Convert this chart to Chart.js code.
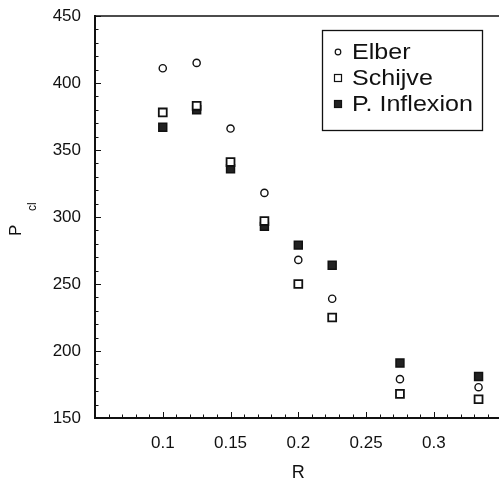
<!DOCTYPE html>
<html>
<head>
<meta charset="utf-8">
<script src="https://cdn.jsdelivr.net/npm/chart.js@4/dist/chart.umd.min.js"></script>
<style>
  html, body { margin: 0; padding: 0; background: #fff; overflow: hidden; }
  #wrap { position: relative; width: 499px; height: 484px; overflow: hidden; }
</style>
</head>
<body>
<div id="wrap"><canvas id="c" width="509" height="484"></canvas></div>
<script>
// ---- data ----
const R = [0.1, 0.125, 0.15, 0.175, 0.2, 0.225, 0.275, 0.333];
const elber = [411, 415, 366, 318, 268, 239, 179, 173];
const schijve = [378, 383, 341, 297, 250, 225, 168, 164];
const inflexion = [367, 380, 336, 293, 279, 264, 191, 181];
const seriesNames = ['Elber', 'Schijve', 'P. Inflexion'];
const xTickLabels = [0.1, 0.15, 0.2, 0.25, 0.3];
const yTickLabels = [150, 200, 250, 300, 350, 400, 450];

const FONT = '"Liberation Sans", Arial, Helvetica, sans-serif';
const INK = '#111';

function pts(ys) { return R.map((r, i) => ({ x: r, y: ys[i] })); }

// inward ticks, top border, y title with subscript, boxed legend
const decor = {
  id: 'decor',
  afterDraw(chart) {
    const ctx = chart.ctx, a = chart.chartArea;
    const xs = chart.scales.x, ys = chart.scales.y;
    ctx.save();
    ctx.strokeStyle = INK;
    // top border
    ctx.lineWidth = 1.3;
    ctx.beginPath(); ctx.moveTo(a.left, a.top); ctx.lineTo(a.right + 20, a.top); ctx.stroke();
    ctx.lineWidth = 1;
    // x ticks (inward)
    for (let k = 5; k <= 35; k++) {
      const v = k / 100, px = Math.round(xs.getPixelForValue(v)) + 0.5;
      const major = k % 5 === 0;
      ctx.beginPath(); ctx.moveTo(px, a.bottom); ctx.lineTo(px, a.bottom - (major ? 6 : 3.5)); ctx.stroke();
    }
    // y ticks (inward)
    for (let v = 150; v <= 450; v += 10) {
      const py = Math.round(ys.getPixelForValue(v)) + 0.5;
      const major = v % 50 === 0;
      ctx.beginPath(); ctx.moveTo(a.left, py); ctx.lineTo(a.left + (major ? 6 : 3.5), py); ctx.stroke();
    }
    // y title "P" with subscript "cl"
    ctx.fillStyle = INK;
    ctx.translate(21, 236);
    ctx.rotate(-Math.PI / 2);
    ctx.textBaseline = 'alphabetic';
    ctx.textAlign = 'left';
    ctx.font = '17px ' + FONT;
    ctx.fillText('P', 0, 0);
    ctx.font = '12px ' + FONT;
    ctx.fillText('cl', 25, 15);
    ctx.restore();

    // legend box
    ctx.save();
    ctx.strokeStyle = INK;
    ctx.lineWidth = 1.3;
    ctx.strokeRect(322.5, 30.5, 160, 100);
    ctx.font = '22px ' + FONT;
    ctx.fillStyle = INK;
    ctx.textBaseline = 'middle';
    ctx.textAlign = 'left';
    const rows = [52, 78, 104];
    chart.data.datasets.forEach((ds, i) => {
      const y = rows[i], x = 338;
      ctx.lineWidth = 1.2;
      ctx.strokeStyle = INK;
      if (ds.pointStyle === 'circle') {
        ctx.beginPath(); ctx.arc(x, y, 2.8, 0, Math.PI * 2);
        ctx.fillStyle = '#fff'; ctx.fill(); ctx.stroke();
      } else {
        ctx.fillStyle = ds.pointBackgroundColor;
        ctx.fillRect(x - 3.5, y - 3.5, 7, 7);
        ctx.strokeRect(x - 3.5, y - 3.5, 7, 7);
      }
      ctx.fillStyle = INK;
      ctx.save();
      ctx.translate(352, y + 1);
      ctx.scale(1.14, 1);
      ctx.fillText(ds.label, 0, 0);
      ctx.restore();
    });
    ctx.restore();
  }
};

new Chart(document.getElementById('c'), {
  type: 'scatter',
  data: {
    datasets: [
      { label: seriesNames[0], data: pts(elber), pointStyle: 'circle', pointRadius: 3.6,
        pointBorderWidth: 1.4, pointBorderColor: INK, pointBackgroundColor: '#fff', order: 1 },
      { label: seriesNames[1], data: pts(schijve), pointStyle: 'rect', pointRadius: 5.6,
        pointBorderWidth: 1.8, pointBorderColor: INK, pointBackgroundColor: '#fff', order: 0 },
      { label: seriesNames[2], data: pts(inflexion), pointStyle: 'rect', pointRadius: 5.6,
        pointBorderWidth: 1.5, pointBorderColor: INK, pointBackgroundColor: '#222', order: 2 }
    ]
  },
  options: {
    responsive: false,
    animation: false,
    events: [],
    layout: { padding: { top: 16, right: 7, left: 0, bottom: 0 } },
    plugins: { legend: { display: false }, tooltip: { enabled: false } },
    scales: {
      x: {
        type: 'linear', min: 0.05, max: 0.35,
        afterBuildTicks(s) { s.ticks = xTickLabels.map(v => ({ value: v })); },
        afterFit(s) { s.height = 66; s.paddingLeft = 0; s.paddingRight = 0; },
        grid: { display: false, drawTicks: false },
        border: { display: true, color: INK, width: 2 },
        ticks: { color: INK, padding: 15, font: { family: FONT, size: 17 },
                 maxRotation: 0, callback: v => String(+v.toFixed(2)) },
        title: { display: true, text: 'R', color: INK, padding: { top: 16, bottom: 0 },
                 font: { family: FONT, size: 18 } }
      },
      y: {
        type: 'linear', min: 150, max: 450,
        afterBuildTicks(s) { s.ticks = yTickLabels.map(v => ({ value: v })); },
        afterFit(s) { s.width = 95; s.paddingTop = 0; s.paddingBottom = 0; },
        grid: { display: false, drawTicks: false },
        border: { display: true, color: INK, width: 2 },
        ticks: { color: INK, padding: 14, font: { family: FONT, size: 17 } }
      }
    }
  },
  plugins: [decor]
});
</script>
</body>
</html>
